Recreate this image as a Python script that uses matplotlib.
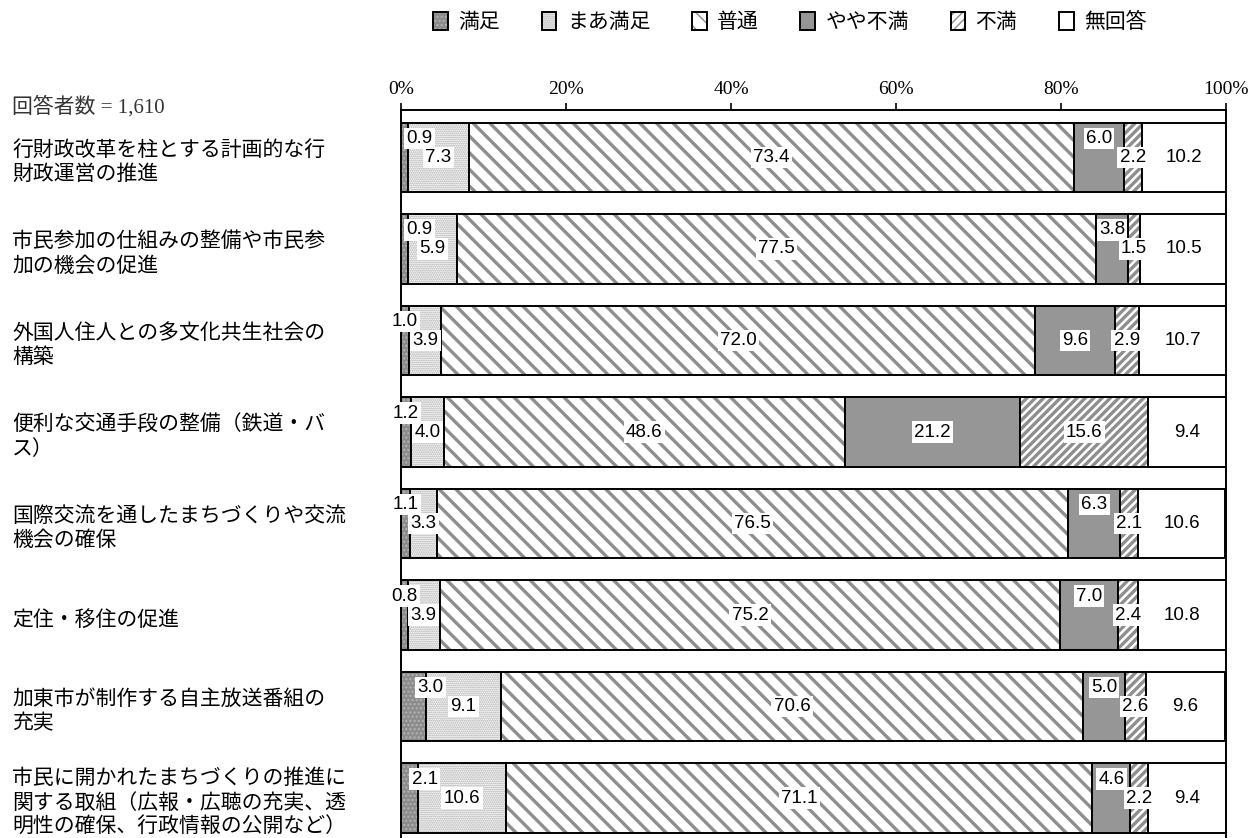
import matplotlib
matplotlib.use('Agg')
import matplotlib.pyplot as plt
from matplotlib.patches import Patch
from matplotlib.legend_handler import HandlerTuple
from matplotlib.transforms import blended_transform_factory, offset_copy
import numpy as np

# ---------------- data ----------------
categories = [
    '行財政改革を柱とする計画的な行\n財政運営の推進',
    '市民参加の仕組みの整備や市民参\n加の機会の促進',
    '外国人住人との多文化共生社会の\n構築',
    '便利な交通手段の整備（鉄道・バ\nス）',
    '国際交流を通したまちづくりや交流\n機会の確保',
    '定住・移住の促進',
    '加東市が制作する自主放送番組の\n充実',
    '市民に開かれたまちづくりの推進に\n関する取組（広報・広聴の充実、透\n明性の確保、行政情報の公開など）',
]
series_names = ['満足', 'まあ満足', '普通', 'やや不満', '不満', '無回答']
satisfied = [0.9, 0.9, 1.0, 1.2, 1.1, 0.8, 3.0, 2.1]
somewhat_satisfied = [7.3, 5.9, 3.9, 4.0, 3.3, 3.9, 9.1, 10.6]
neutral = [73.4, 77.5, 72.0, 48.6, 76.5, 75.2, 70.6, 71.1]
somewhat_dissatisfied = [6.0, 3.8, 9.6, 21.2, 6.3, 7.0, 5.0, 4.6]
dissatisfied = [2.2, 1.5, 2.9, 15.6, 2.1, 2.4, 2.6, 2.2]
no_answer = [10.2, 10.5, 10.7, 9.4, 10.6, 10.8, 9.6, 9.4]
xticks = [0, 20, 40, 60, 80, 100]
xtick_labels = ['0%', '20%', '40%', '60%', '80%', '100%']
respondents_label = '回答者数 = 1,610'

series = [satisfied, somewhat_satisfied, neutral, somewhat_dissatisfied,
          dissatisfied, no_answer]

# ---------------- styles ----------------
faces = ['#8c8c8c', 'white', 'white', '#969696', 'white', 'white']
hatches = ['....', '........', '\\\\', None, '////', None]
hatch_colors = ['#b4b4b4', '#a6a6a6', '#8e8e8e', '#969696', '#8e8e8e', 'white']
hatch_lw = [1.0, 0.9, 2.4, 1.0, 2.4, 1.0]
# label offsets (style): vertical offset in px (negative = up), horizontal in px
lab_dy = [
    [-19] * 8,
    [0] * 8,
    [0] * 8,
    [-19, -19, 0, 0, -19, -19, -19, -19],
    [0] * 8,
    [0] * 8,
]
lab_dx = [
    [15, 15, 0, 0, 0, 0, 17, 15],
    [0] * 8, [0] * 8, [0] * 8, [0] * 8, [0] * 8,
]

W, H = 1259, 838
fig = plt.figure(figsize=(W / 100, H / 100), dpi=100)
ax_top_px = 110
ax = fig.add_axes([401 / W, 0, 825 / W, (H - ax_top_px) / H])

n = len(categories)
y = np.arange(n)
bar_h = 0.76
ax.set_ylim(7.437, -0.519)
ax.set_xlim(0, 100)

left = np.zeros(n)
for i, vals in enumerate(series):
    vals = np.array(vals)
    with plt.rc_context({'hatch.linewidth': hatch_lw[i]}):
        ax.barh(y, vals, left=left, height=bar_h, color=faces[i],
                hatch=hatches[i], edgecolor=hatch_colors[i], linewidth=0)
    ax.barh(y, vals, left=left, height=bar_h, fill=False,
            edgecolor='black', linewidth=1.4)
    for j in range(n):
        cx = left[j] + vals[j] / 2
        tr = offset_copy(ax.transData, fig=fig, x=lab_dx[i][j],
                         y=-lab_dy[i][j], units='dots')
        ax.text(cx, y[j], f'{vals[j]:.1f}', transform=tr, ha='center',
                va='center', fontsize=13.5, family='Liberation Sans',
                color='black',
                bbox=dict(boxstyle='square,pad=0.12', fc='white', ec='none'),
                zorder=5)
    left = left + vals

# axes styling
ax.xaxis.tick_top()
ax.set_xticks(xticks)
ax.set_xticklabels(xtick_labels, family='Liberation Serif', fontsize=14,
                   color='#222222')
ax.tick_params(axis='x', direction='out', length=5, width=1.2, pad=4,
               colors='black')
ax.set_yticks([])
for s in ['top', 'left', 'right']:
    ax.spines[s].set_linewidth(1.4)
    ax.spines[s].set_color('black')
ax.spines['bottom'].set_visible(False)

# category labels
btr = blended_transform_factory(fig.transFigure, ax.transData)
for j, cat in enumerate(categories):
    ax.text(12 / W, y[j] + 0.05, cat, transform=btr, ha='left', va='center',
            fontsize=15, family=['Noto Sans CJK JP', 'DejaVu Sans'],
            linespacing=1.15)

fig.text(12 / W, 1 - 107 / H, respondents_label, ha='left', va='center',
         fontsize=15, family=['Liberation Serif', 'Noto Sans CJK JP'],
         color='#333333')

# legend
handles = []
for i in range(6):
    with plt.rc_context({'hatch.linewidth': hatch_lw[i]}):
        p1 = Patch(facecolor=faces[i], hatch=hatches[i],
                   edgecolor=hatch_colors[i], linewidth=0)
    p2 = Patch(fill=False, edgecolor='black', linewidth=1.4)
    handles.append((p1, p2))
fig.legend(handles, series_names, loc='center', ncol=6,
           bbox_to_anchor=(790 / W, 1 - 22 / H), frameon=False,
           handler_map={tuple: HandlerTuple(ndivide=1)},
           prop={'family': ['Noto Sans CJK JP', 'DejaVu Sans'], 'size': 15},
           handlelength=0.7, handleheight=1.0, handletextpad=0.5,
           columnspacing=2.0)

fig.savefig('out.png', dpi=100)
